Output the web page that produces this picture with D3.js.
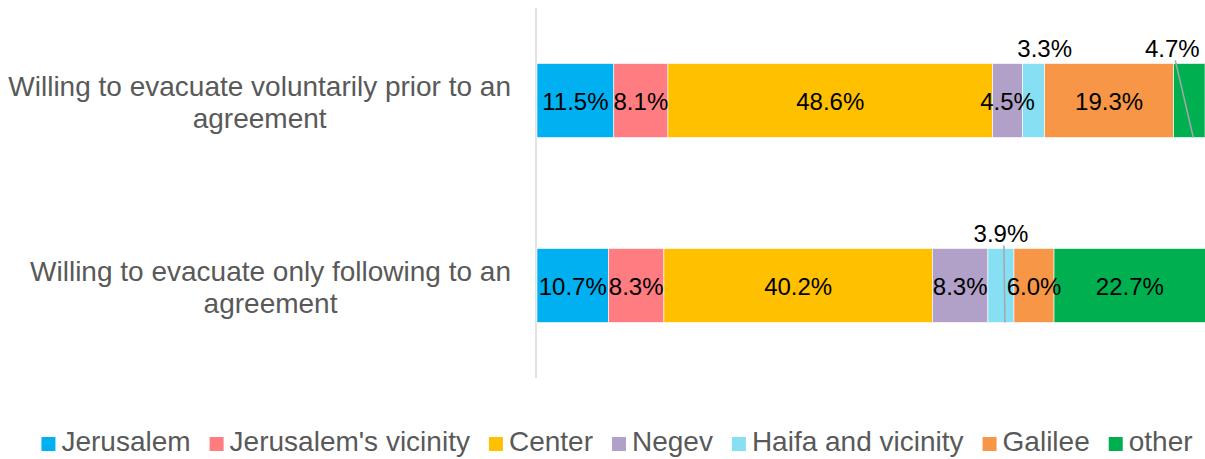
<!DOCTYPE html>
<html>
<head>
<meta charset="utf-8">
<script src="https://cdn.jsdelivr.net/npm/d3@7"></script>
<style>
  body { margin: 0; background: #fff; }
  text { font-family: "Liberation Sans", Arial, sans-serif; }
</style>
</head>
<body>
<svg id="chart"></svg>
<script>
// chart data
var categories = [
    ['Willing to evacuate voluntarily prior to an', 'agreement'],
    ['Willing to evacuate only following to an', 'agreement']
];
var seriesNames = ['Jerusalem', "Jerusalem's vicinity", 'Center', 'Negev', 'Haifa and vicinity', 'Galilee', 'other'];
var jerusalem = [11.5, 10.7];
var jerusalemVicinity = [8.1, 8.3];
var center = [48.6, 40.2];
var negev = [4.5, 8.3];
var haifa = [3.3, 3.9];
var galilee = [19.3, 6.0];
var other = [4.7, 22.7];
var colors = ['#00B0F0', '#FF7C80', '#FFC000', '#B1A0C7', '#86DFF3', '#F79646', '#00B050'];

var w = 1205, h = 459;
var svg = d3.select('#chart').attr('width', w).attr('height', h);

var values = [jerusalem, jerusalemVicinity, center, negev, haifa, galilee, other];
var rows = categories.map(function(c, i) {
    var acc = 0;
    return values.map(function(v, s) {
        var seg = {row: i, series: s, value: v[i], x0: acc, x1: acc + v[i]};
        acc += v[i];
        return seg;
    });
});

var xs = d3.scaleLinear().domain([0, 100]).range([537, 1205]);
var ys = d3.scaleBand().domain(d3.range(categories.length)).range([8, 378])
    .paddingInner(0.6).paddingOuter(0.3);

// vertical axis line
svg.append('line')
    .attr('x1', 536).attr('x2', 536).attr('y1', 8).attr('y2', 378)
    .attr('stroke', '#d9d9d9').attr('stroke-width', 1.5);

// category labels (each line centred, block right aligned)
categories.forEach(function(lines, i) {
    var g = svg.append('g');
    var t = g.selectAll('text').data(lines).enter().append('text')
        .attr('font-size', 28).attr('fill', '#595959')
        .attr('text-anchor', 'middle')
        .attr('y', function(d, k) { return ys(i) + ys.bandwidth() / 2 - 5 + k * 32; })
        .text(function(d) { return d; });
    var maxW = d3.max(t.nodes(), function(n) { return n.getComputedTextLength(); });
    t.attr('x', 511 - maxW / 2);
});

// bars
var segs = [].concat.apply([], rows);
svg.append('g').selectAll('rect')
    .data(segs).enter().append('rect')
    .attr('x', function(d) { return xs(d.x0); })
    .attr('width', function(d) { return xs(d.x1) - xs(d.x0); })
    .attr('y', function(d) { return ys(d.row); })
    .attr('height', ys.bandwidth())
    .attr('fill', function(d) { return colors[d.series]; })
    .attr('stroke', '#fff').attr('stroke-width', 0.6);

// labels that sit above the bar (row, series, dx, leader)
var callouts = [[0, 4, 11, false], [0, 6, -17, true], [1, 4, 0, true]];
function isCallout(d) {
    return callouts.some(function(c) { return c[0] === d.row && c[1] === d.series; });
}

svg.append('g').selectAll('text')
    .data(segs.filter(function(d) { return !isCallout(d); })).enter().append('text')
    .attr('x', function(d) { return (xs(d.x0) + xs(d.x1)) / 2; })
    .attr('y', function(d) { return ys(d.row) + ys.bandwidth() / 2 + 9; })
    .attr('text-anchor', 'middle').attr('font-size', 24).attr('fill', '#000')
    .text(function(d) { return d.value.toFixed(1) + '%'; });

callouts.forEach(function(c) {
    var d = rows[c[0]][c[1]];
    var cx = (xs(d.x0) + xs(d.x1)) / 2;
    var lx = cx + c[2];
    var top = ys(d.row);
    svg.append('text')
        .attr('x', lx).attr('y', top - 7)
        .attr('text-anchor', 'middle').attr('font-size', 24).attr('fill', '#000')
        .text(d.value.toFixed(1) + '%');
    if (c[3]) {
        svg.append('line')
            .attr('x1', lx + 3).attr('y1', top - 3)
            .attr('x2', cx + 4).attr('y2', top + ys.bandwidth())
            .attr('stroke', '#a6a6a6').attr('stroke-width', 1.5);
    }
});

// legend
var leg = svg.append('g');
var items = leg.selectAll('g').data(seriesNames).enter().append('g');
items.append('rect').attr('width', 14).attr('height', 14).attr('y', 437)
    .attr('fill', function(d, i) { return colors[i]; });
items.append('text').attr('x', 20).attr('y', 451)
    .attr('font-size', 28).attr('fill', '#595959')
    .text(function(d) { return d; });
var pos = 0;
var offs = [];
items.each(function(d, i) {
    offs.push(pos);
    pos += 20 + d3.select(this).select('text').node().getComputedTextLength() + 19;
});
var total = pos - 19;
var start = 617 - total / 2;
items.attr('transform', function(d, i) { return 'translate(' + (start + offs[i]) + ',0)'; });
</script>
</body>
</html>
